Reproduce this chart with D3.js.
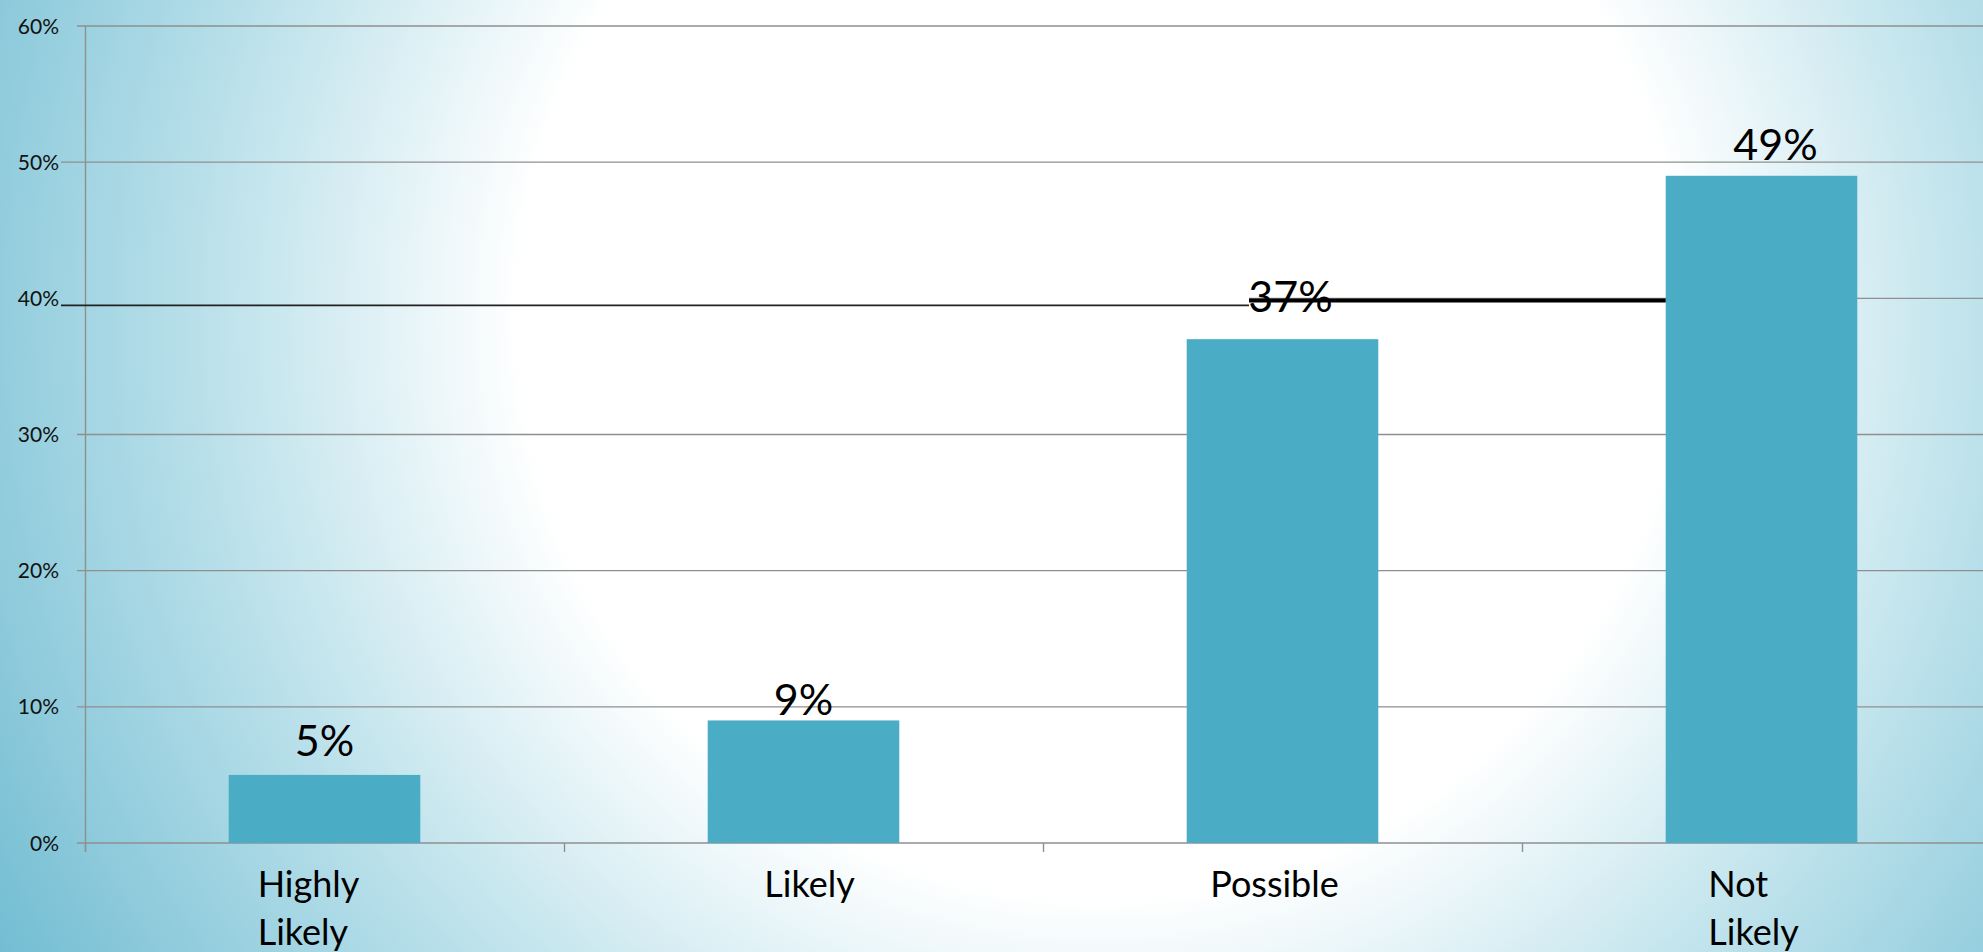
<!DOCTYPE html>
<html>
<head>
<meta charset="utf-8">
<script src="https://cdn.jsdelivr.net/npm/d3@7"></script>
<style>
  html, body { margin: 0; padding: 0; overflow: hidden; background: #fff; }
  svg { display: block; font-family: Lato, "Open Sans", sans-serif; }
</style>
</head>
<body>
<div id="chart"></div>
<script>
// chart values
var categories = ["Highly Likely", "Likely", "Possible", "Not Likely"];
var values = [0.05, 0.09, 0.37, 0.49];
var valueLabels = ["5%", "9%", "37%", "49%"];
var yTicks = [0, 0.1, 0.2, 0.3, 0.4, 0.5, 0.6];
var yTickLabels = ["0%", "10%", "20%", "30%", "40%", "50%", "60%"];

// label nudges (layout only)
var labelDx = [0, 0, 8, 14],
    labelDy = [-19, -5, -27, -16],
    catDx = [-16, 6, -8, -8];

var width = 1983, height = 952;

var svg = d3.select("#chart").append("svg")
    .attr("width", width)
    .attr("height", height);

// background radial gradient
var defs = svg.append("defs");
var grad = defs.append("radialGradient")
    .attr("id", "bg")
    .attr("gradientUnits", "userSpaceOnUse")
    .attr("cx", 1100).attr("cy", 316).attr("r", 1290);
grad.append("stop").attr("offset", 0).attr("stop-color", "#ffffff");
grad.append("stop").attr("offset", 0.45).attr("stop-color", "#ffffff");
grad.append("stop").attr("offset", 0.7).attr("stop-color", "#b9e0ea");
grad.append("stop").attr("offset", 1).attr("stop-color", "#6fbbd1");

svg.append("rect")
    .attr("width", width).attr("height", height)
    .attr("fill", "url(#bg)");

// scales
var x = d3.scaleBand()
    .domain(categories)
    .range([85, 2001])
    .paddingInner(0.6)
    .paddingOuter(0.3);

var y = d3.scaleLinear()
    .domain([0, 0.6])
    .range([843, 26]);

var step = x.step();

// horizontal gridlines
svg.append("g").selectAll("line")
    .data(yTicks)
    .enter().append("line")
    .attr("x1", function(d) {
        if (d === 0.5) return 61;
        if (d === 0.4) return 1249;
        return 77;
    })
    .attr("x2", width)
    .attr("y1", function(d) { return y(d); })
    .attr("y2", function(d) { return y(d); })
    .attr("stroke", "#8f8f8f")
    .attr("stroke-width", 1.4);

// y axis line
svg.append("line")
    .attr("x1", 85.5).attr("x2", 85.5)
    .attr("y1", y(0.6)).attr("y2", y(0) + 9)
    .attr("stroke", "#8f8f8f")
    .attr("stroke-width", 1.4);

// category ticks
svg.append("g").selectAll("line")
    .data(d3.range(categories.length + 1))
    .enter().append("line")
    .attr("x1", function(i) { return 85.5 + i * step; })
    .attr("x2", function(i) { return 85.5 + i * step; })
    .attr("y1", y(0))
    .attr("y2", y(0) + 9)
    .attr("stroke", "#8f8f8f")
    .attr("stroke-width", 1.4);

// y tick labels
svg.append("g").selectAll("text")
    .data(yTicks)
    .enter().append("text")
    .attr("x", 59)
    .attr("y", function(d) { return y(d) + 7.5; })
    .attr("text-anchor", "end")
    .attr("font-size", 21)
    .attr("fill", "#111")
    .text(function(d, i) { return yTickLabels[i]; });

// bars
svg.append("g").selectAll("rect")
    .data(values)
    .enter().append("rect")
    .attr("x", function(d, i) { return x(categories[i]); })
    .attr("y", function(d) { return y(d); })
    .attr("width", x.bandwidth())
    .attr("height", function(d) { return y(0) - y(d); })
    .attr("fill", "#4bacc6");

// hand drawn lines around 40%
svg.append("line")
    .attr("x1", 61).attr("x2", 1249)
    .attr("y1", y(0.3948)).attr("y2", y(0.3948))
    .attr("stroke", "#222")
    .attr("stroke-width", 1.6);
svg.append("line")
    .attr("x1", 1249).attr("x2", x("Not Likely"))
    .attr("y1", y(0.3985)).attr("y2", y(0.3985))
    .attr("stroke", "#000")
    .attr("stroke-width", 4);

// value labels
svg.append("g").selectAll("text")
    .data(values)
    .enter().append("text")
    .attr("x", function(d, i) { return x(categories[i]) + x.bandwidth() / 2 + labelDx[i]; })
    .attr("y", function(d, i) { return y(d) + labelDy[i]; })
    .attr("text-anchor", "middle")
    .attr("font-size", 43)
    .attr("fill", "#000")
    .text(function(d, i) { return valueLabels[i]; });

// category labels, wrapped on spaces, lines left aligned
var cat = svg.append("g").selectAll("g")
    .data(categories)
    .enter().append("g");

cat.each(function(c, i) {
    var g = d3.select(this);
    var words = c.split(" ");
    var t = g.append("text")
        .attr("font-size", 36)
        .attr("fill", "#000");
    words.forEach(function(w, k) {
        t.append("tspan")
            .attr("x", 0)
            .attr("y", 897 + k * 48)
            .text(w);
    });
    var w = 0;
    t.selectAll("tspan").each(function() {
        w = Math.max(w, this.getComputedTextLength());
    });
    var cx = x(c) + x.bandwidth() / 2;
    g.attr("transform", "translate(" + (cx - w / 2 + catDx[i]) + ",0)");
});
</script>
</body>
</html>
